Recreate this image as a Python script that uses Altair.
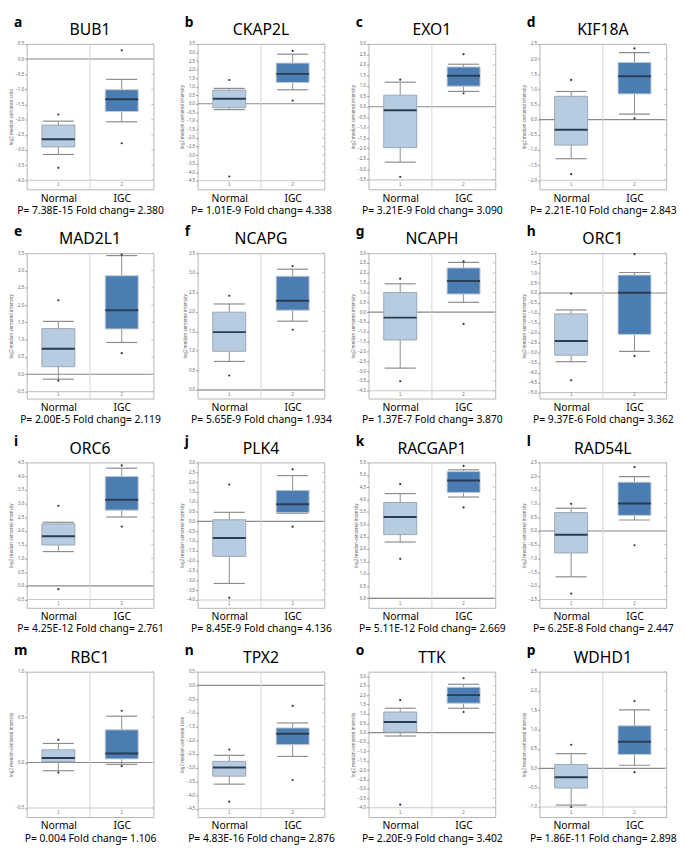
import altair as alt
import pandas as pd

genes = ["BUB1", "CKAP2L", "EXO1", "KIF18A", "MAD2L1", "NCAPG", "NCAPH", "ORC1",
         "ORC6", "PLK4", "RACGAP1", "RAD54L", "RBC1", "TPX2", "TTK", "WDHD1"]
letters = list("abcdefghijklmnop")
p_values = ["7.38E-15", "1.01E-9", "3.21E-9", "2.21E-10", "2.00E-5", "5.65E-9", "1.37E-7", "9.37E-6",
            "4.25E-12", "8.45E-9", "5.11E-12", "6.25E-8", "0.004", "4.83E-16", "2.20E-9", "1.86E-11"]
fold_changes = ["2.380", "4.338", "3.090", "2.843", "2.119", "1.934", "3.870", "3.362",
                "2.761", "4.136", "2.669", "2.447", "1.106", "2.876", "3.402", "2.898"]
y_bottom = [-4.3, -5.0, -3.95, -2.3, -0.7, -0.22, -4.4, -5.3,
            -0.8, -4.4, -0.38, -2.8, -0.6, -4.8, -4.5, -1.26]
y_top = [0.5, 3.5, 3.0, 2.5, 3.5, 3.5, 3.0, 2.0,
         4.5, 3.0, 5.5, 2.5, 1.0, 0.5, 3.25, 2.5]
tick_low = [-4.0, -4.5, -3.5, -2.0, -0.5, 0.0, -4.0, -5.0,
            -0.5, -4.0, 0.0, -2.5, -0.5, -4.5, -4.0, -1.0]
y_titles = ["log2 median-centered ratio"] + ["log2 median-centered intensity"] * 12 + \
           ["log2 median-centered ratio", "log2 median-centered intensity", "log2 median-centered intensity"]
groups = ["Normal", "IGC"]
# [low outlier, low whisker, Q1, median, Q3, high whisker, high outlier]
normal_stats = [
    [-3.59, -3.15, -2.90, -2.65, -2.18, -2.05, -1.83],
    [-4.25, -0.34, -0.23, 0.29, 0.80, 0.90, 1.39],
    [-3.36, -2.65, -1.96, -0.17, 0.55, 1.17, 1.29],
    [-1.80, -1.29, -0.84, -0.33, 0.77, 0.93, 1.31],
    [-0.18, -0.14, 0.22, 0.74, 1.32, 1.53, 2.14],
    [0.37, 0.73, 0.99, 1.48, 1.99, 2.20, 2.41],
    [-3.52, -2.85, -1.42, -0.28, 1.00, 1.44, 1.70],
    [-4.38, -3.45, -3.12, -2.41, -1.05, -0.85, -0.03],
    [-0.12, 1.25, 1.49, 1.81, 2.26, 2.32, 2.92],
    [-3.89, -3.16, -1.78, -0.85, 0.08, 0.46, 1.87],
    [1.60, 2.28, 2.58, 3.29, 3.88, 4.24, 4.62],
    [-2.28, -1.67, -0.80, -0.14, 0.67, 0.83, 0.99],
    [-0.11, -0.09, 0.01, 0.05, 0.14, 0.21, 0.25],
    [-4.24, -3.60, -3.31, -2.99, -2.77, -2.55, -2.34],
    [-3.84, -0.18, 0.03, 0.57, 1.10, 1.30, 1.73],
    [-1.00, -0.95, -0.51, -0.23, 0.10, 0.38, 0.61],
]
igc_stats = [
    [-2.78, -2.07, -1.73, -1.33, -1.01, -0.67, 0.29],
    [0.19, 0.82, 1.24, 1.75, 2.38, 2.90, 3.09],
    [0.64, 0.73, 0.98, 1.48, 1.90, 2.03, 2.51],
    [0.04, 0.18, 0.85, 1.43, 1.89, 2.21, 2.35],
    [0.61, 0.92, 1.31, 1.85, 2.85, 3.43, 3.46],
    [1.54, 1.76, 2.04, 2.28, 2.91, 3.09, 3.17],
    [-0.60, 0.50, 0.92, 1.58, 2.25, 2.53, 2.58],
    [-3.16, -2.93, -2.08, 0.01, 0.90, 1.03, 1.95],
    [2.16, 2.51, 2.76, 3.14, 3.99, 4.29, 4.39],
    [-0.27, 0.41, 0.44, 0.87, 1.58, 2.33, 2.65],
    [3.68, 4.10, 4.28, 4.77, 5.13, 5.20, 5.36],
    [-0.52, 0.40, 0.57, 1.00, 1.78, 1.98, 2.33],
    [-0.04, -0.02, 0.04, 0.10, 0.36, 0.51, 0.57],
    [-3.45, -2.59, -2.16, -1.76, -1.55, -1.37, -0.75],
    [1.10, 1.30, 1.57, 2.00, 2.42, 2.58, 2.90],
    [-0.10, 0.08, 0.36, 0.69, 1.10, 1.51, 1.74],
]
box_fill = ["#b8cce1", "#4b7db3"]
box_stroke = ["#9aa6b2", "#c3cbd3"]

W, H = 129, 148
FONT = "Noto Sans"


def panel(i):
    rows, outs = [], []
    for k, st in enumerate([normal_stats[i], igc_stats[i]]):
        pos = k + 1
        lo_out, lo_w, q1, med, q3, hi_w, hi_out = st
        rows.append(dict(pos=pos, idx=str(pos), lo_w=lo_w, q1=q1, med=med, q3=q3, hi_w=hi_w,
                         x0=pos - 0.26, x1=pos + 0.26, c0=pos - 0.245, c1=pos + 0.245,
                         fill=box_fill[k], stroke=box_stroke[k]))
        outs.append(dict(pos=pos, val=lo_out))
        outs.append(dict(pos=pos, val=hi_out))
    df = pd.DataFrame(rows)
    odf = pd.DataFrame(outs)
    n = int((y_top[i] - tick_low[i]) / 0.5 + 1e-6)
    ticks = [round(tick_low[i] + 0.5 * k, 2) for k in range(n + 1)]
    tdf = pd.DataFrame({"v": ticks})

    xs = alt.Scale(domain=[0.5, 2.5], nice=False, zero=False)
    ys = alt.Scale(domain=[y_bottom[i], y_top[i]], nice=False, zero=False)
    ax_x = alt.Axis(
        values=[1, 2], labelExpr="datum.value == 1 ? 'Normal' : 'IGC'",
        ticks=False, domain=False, grid=False, labelFontSize=10.5, labelFont=FONT,
        labelColor="black", labelPadding=4,
        title=f"P= {p_values[i]} Fold chang= {fold_changes[i]}", titleFont=FONT,
        titleFontSize=10.5, titleFontWeight="normal", titleColor="black", titlePadding=2)
    ax_y = alt.Axis(
        values=ticks, format=".1f", labelFontSize=4.5, labelColor="#666", labelFont=FONT,
        tickSize=2, tickColor="#999", domain=False, grid=False, labelPadding=1,
        title=y_titles[i], titleFontSize=4.5, titleColor="#666", titleFont=FONT,
        titleFontWeight="normal", titlePadding=1)

    def X(f):
        return alt.X(f, scale=xs, axis=ax_x)

    def Y(f):
        return alt.Y(f, scale=ys, axis=ax_y)

    base = alt.Chart(df)
    hl = alt.Chart(pd.DataFrame({"v": [tick_low[i], 0.0], "c": ["#c8c8c8", "#8a8a8a"]})).mark_rule(
        strokeWidth=1.1).encode(y=Y("v:Q"), color=alt.Color("c:N", scale=None))
    divider = alt.Chart(pd.DataFrame({"v": [1.5]})).mark_rule(color="#d4d4d4").encode(x=X("v:Q"))
    rticks = alt.Chart(tdf).mark_rule(color="#bbbbbb").encode(
        y=Y("v:Q"), x=alt.value(W - 2), x2=alt.value(W))
    whisk = base.mark_rule(color="#8c8c8c").encode(x=X("pos:Q"), y=Y("lo_w:Q"), y2="hi_w:Q")
    cap_lo = base.mark_rule(color="#8c8c8c", strokeWidth=1.2).encode(
        x=X("c0:Q"), x2="c1:Q", y=Y("lo_w:Q"))
    cap_hi = base.mark_rule(color="#8c8c8c", strokeWidth=1.2).encode(
        x=X("c0:Q"), x2="c1:Q", y=Y("hi_w:Q"))
    box = base.mark_rect(strokeWidth=1).encode(
        x=X("x0:Q"), x2="x1:Q", y=Y("q1:Q"), y2="q3:Q",
        fill=alt.Fill("fill:N", scale=None), stroke=alt.Stroke("stroke:N", scale=None))
    median = base.mark_rule(color="#2b3d52", strokeWidth=2).encode(
        x=X("x0:Q"), x2="x1:Q", y=Y("med:Q"))
    pts = alt.Chart(odf).mark_circle(size=5, color="#333333", opacity=1).encode(
        x=X("pos:Q"), y=Y("val:Q"))
    idx = base.mark_text(fontSize=4.5, color="#777777").encode(
        x=X("pos:Q"), y=alt.value(H - 4), text="idx:N")
    lab = pd.DataFrame({"t": [letters[i]], "g": [genes[i]]})
    letter = alt.Chart(lab).mark_text(
        align="left", baseline="alphabetic", fontSize=14, fontWeight="bold", font=FONT, color="black"
    ).encode(x=alt.value(-13), y=alt.value(-17), text="t:N")
    gene = alt.Chart(lab).mark_text(
        align="center", baseline="alphabetic", fontSize=16, font=FONT, color="black"
    ).encode(x=alt.value(W / 2), y=alt.value(-9), text="g:N")

    return alt.layer(hl, divider, rticks, whisk, cap_lo, cap_hi, box, median, pts, idx,
                     letter, gene).properties(width=W, height=H)


chart = alt.concat(*[panel(i) for i in range(16)], columns=4,
                   spacing=alt.RowColnumber(row=65, column=45),
                   bounds="flush").properties(padding=0).configure_view(
    stroke="#b5b5b5", strokeWidth=1)

chart.save("out.html", embed_options={"renderer": "svg", "actions": False})
